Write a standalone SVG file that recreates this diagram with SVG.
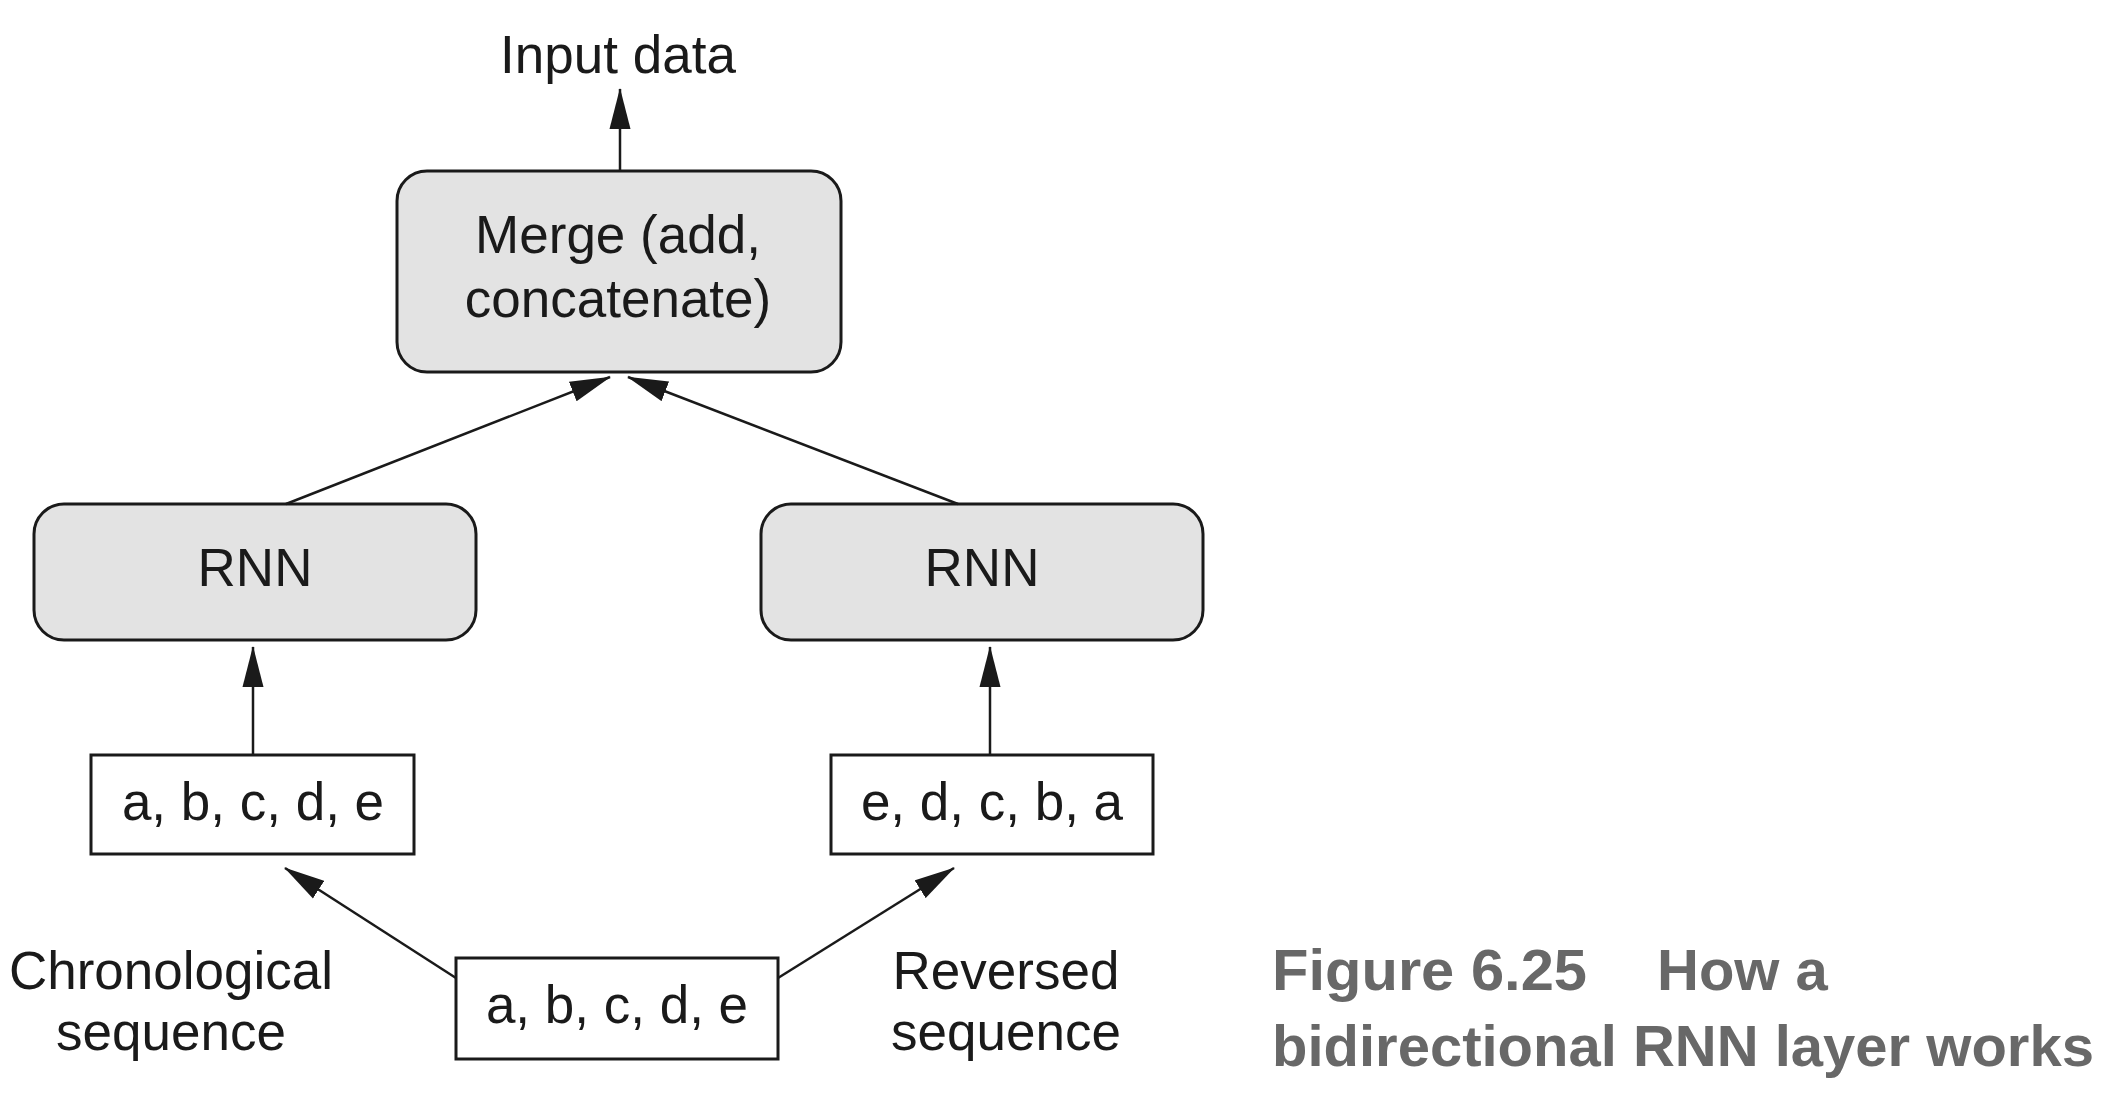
<svg xmlns="http://www.w3.org/2000/svg" width="2108" height="1108" viewBox="0 0 2108 1108">
<style>
.t{font-family:"Liberation Sans",Arial,sans-serif;font-size:53px;fill:#1a1a1a;text-anchor:middle}
.rb{fill:#e3e3e3;stroke:#1a1a1a;stroke-width:3}
.sb{fill:#fff;stroke:#1a1a1a;stroke-width:3}
.c{stroke:#1a1a1a;stroke-width:2.5;fill:none;marker-end:url(#ah)}
.cap{font-family:"Liberation Sans",Arial,sans-serif;font-size:58px;font-weight:bold;fill:#686868}
</style>
<defs>
<marker id="ah" markerUnits="userSpaceOnUse" markerWidth="42" markerHeight="22" refX="40" refY="10.5" orient="auto" viewBox="0 0 42 21">
<path d="M0,0 L41,10.5 L0,21 z" fill="#1a1a1a"/>
</marker>
</defs>
<rect width="2108" height="1108" fill="#fff"/>
<text id="input-data" class="t" x="618" y="73">Input data</text>
<g id="merge">
<rect class="rb" x="397" y="171" width="444" height="201" rx="30"/>
<text class="t" x="618" y="253">Merge (add,</text>
<text class="t" x="618" y="317">concatenate)</text>
</g>
<g id="rnn-left">
<rect class="rb" x="34" y="504" width="442" height="136" rx="30"/>
<text class="t" x="255" y="586">RNN</text>
</g>
<g id="rnn-right">
<rect class="rb" x="761" y="504" width="442" height="136" rx="30"/>
<text class="t" x="982" y="586">RNN</text>
</g>
<g id="seq-left">
<rect class="sb" x="91" y="755" width="323" height="99"/>
<text class="t" x="253" y="820">a, b, c, d, e</text>
</g>
<g id="seq-right">
<rect class="sb" x="831" y="755" width="322" height="99"/>
<text class="t" x="992" y="820">e, d, c, b, a</text>
</g>
<g id="seq-input">
<rect class="sb" x="456" y="958" width="322" height="101"/>
<text class="t" x="617" y="1023">a, b, c, d, e</text>
</g>
<g id="label-chrono">
<text class="t" x="171" y="989">Chronological</text>
<text class="t" x="171" y="1050">sequence</text>
</g>
<g id="label-rev">
<text class="t" x="1006" y="989">Reversed</text>
<text class="t" x="1006" y="1050">sequence</text>
</g>
<g id="connectors">
<line class="c" x1="620" y1="171" x2="620" y2="89"/>
<line class="c" x1="286" y1="504" x2="610" y2="377"/>
<line class="c" x1="958" y1="504" x2="628" y2="377"/>
<line class="c" x1="253" y1="755" x2="253" y2="647"/>
<line class="c" x1="990" y1="755" x2="990" y2="647"/>
<line class="c" x1="456" y1="978" x2="285" y2="868"/>
<line class="c" x1="778" y1="978" x2="954" y2="868"/>
</g>
<g id="caption">
<text class="cap" x="1272" y="990" textLength="315" lengthAdjust="spacingAndGlyphs">Figure 6.25</text>
<text class="cap" x="1657" y="990">How a</text>
<text class="cap" x="1272" y="1066">bidirectional RNN layer works</text>
</g>
</svg>
